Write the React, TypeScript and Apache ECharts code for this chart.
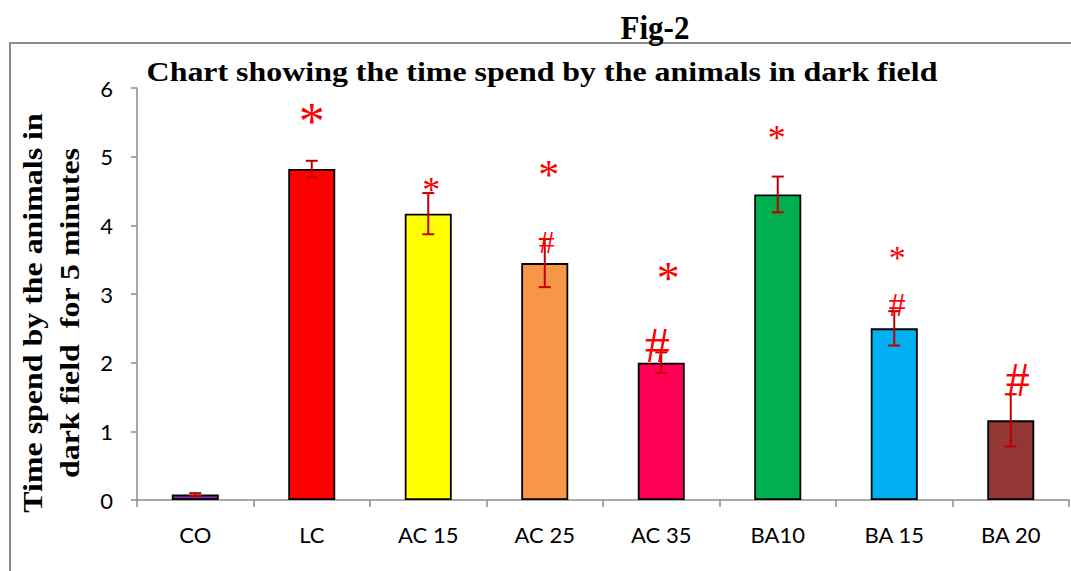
import React, { useEffect, useRef } from "react";
import * as echarts from "echarts";

const categories = ["CO", "LC", "AC 15", "AC 25", "AC 35", "BA10", "BA 15", "BA 20"];
const values = [0.08, 4.82, 4.17, 3.45, 2.0, 4.45, 2.5, 1.16];
const errors = [0.02, 0.12, 0.3, 0.35, 0.15, 0.26, 0.25, 0.38];
const barColors = ["#7030A0", "#FF0000", "#FFFF00", "#F79646", "#FF0055", "#00B050", "#00B0F0", "#943634"];
const yTicks = [0, 1, 2, 3, 4, 5, 6];

// significance marks: category index, y position (data units), symbol, font size
const annoCat = [1, 2, 3, 3, 4, 4, 5, 6, 6, 7];
const annoY = [5.61, 4.59, 4.81, 3.76, 3.32, 2.26, 5.34, 3.6, 2.84, 1.75];
const annoText = ["*", "*", "*", "#", "*", "#", "*", "*", "#", "#"];
const annoSize = [52, 36, 42, 32, 46, 50, 36, 34, 34, 48];
const annoDx = [0, 3, 4, 2, 7, -4, -1, 3, 3, 7];

export default function App() {
  const ref = useRef<HTMLDivElement>(null);
  useEffect(() => {
    if (!ref.current) return;
    const chart = echarts.init(ref.current, null, { renderer: "svg" });
    const serif = "'Liberation Serif', 'Times New Roman', serif";
    const sans = "Lato, 'Open Sans', sans-serif";
    chart.setOption({
      animation: false,
      backgroundColor: "#fff",
      grid: { left: 137, right: 2, top: 88, bottom: 71, containLabel: false },
      graphic: [
        {
          type: "rect",
          shape: { x: 10, y: 43, width: 1200, height: 700 },
          style: { fill: "none", stroke: "#8c8c8c", lineWidth: 2 },
          silent: true,
          z: -10,
        },
        {
          type: "text",
          x: 655,
          y: 28,
          scaleY: 1.08,
          style: { text: "Fig-2", font: `bold 31px ${serif}`, fill: "#000", textAlign: "center", textVerticalAlign: "middle" },
        },
        {
          type: "text",
          x: 542,
          y: 71,
          scaleX: 1.14,
          style: {
            text: "Chart showing the time spend by the animals in dark field",
            font: `bold 28px ${serif}`,
            fill: "#000",
            textAlign: "center",
            textVerticalAlign: "middle",
          },
        },
        {
          type: "text",
          x: 51,
          y: 313,
          rotation: Math.PI / 2,
          scaleX: 1.14,
          style: {
            text: "Time spend by the animals in\ndark field  for 5 minutes",
            font: `bold 28px ${serif}`,
            lineHeight: 37,
            fill: "#000",
            textAlign: "center",
            textVerticalAlign: "middle",
          },
        },
      ],
      xAxis: {
        type: "category",
        data: categories,
        axisLine: { lineStyle: { color: "#8c8c8c", width: 1.5 } },
        axisTick: { show: true, length: 7, lineStyle: { color: "#8c8c8c", width: 1.5 } },
        axisLabel: { color: "#000", fontSize: 22, fontFamily: sans, margin: 23 },
      },
      yAxis: {
        type: "value",
        min: 0,
        max: 6,
        interval: 1,
        splitLine: { show: false },
        axisLine: { show: true, lineStyle: { color: "#8c8c8c", width: 1.5 } },
        axisTick: { show: true, length: 6, lineStyle: { color: "#8c8c8c", width: 1.5 } },
        axisLabel: {
          color: "#000",
          fontSize: 22,
          fontFamily: sans,
          margin: 24,
          formatter: (v: number) => (yTicks.includes(v) ? String(v) : ""),
        },
      },
      series: [
        {
          type: "bar",
          barWidth: 47,
          data: values.map((v, i) => ({
            value: v,
            itemStyle: { color: barColors[i], borderColor: "#000", borderWidth: 1.8 },
          })),
          z: 2,
        },
        {
          type: "custom",
          z: 3,
          data: values.map((v, i) => [i, v, errors[i]]),
          renderItem: (params: any, api: any) => {
            const x = api.value(0);
            const v = api.value(1);
            const e = api.value(2);
            const top = api.coord([x, v + e]);
            const bot = api.coord([x, v - e]);
            const hw = 6;
            const style = { stroke: "#C00000", lineWidth: 2 };
            return {
              type: "group",
              children: [
                { type: "line", shape: { x1: top[0], y1: top[1], x2: bot[0], y2: bot[1] }, style },
                { type: "line", shape: { x1: top[0] - hw, y1: top[1], x2: top[0] + hw, y2: top[1] }, style },
                { type: "line", shape: { x1: bot[0] - hw, y1: bot[1], x2: bot[0] + hw, y2: bot[1] }, style },
              ],
            };
          },
        },
        {
          type: "custom",
          z: 4,
          data: annoCat.map((c, i) => [c, annoY[i]]),
          renderItem: (params: any, api: any) => {
            const i = params.dataIndex;
            const p = api.coord([api.value(0), api.value(1)]);
            const s = annoSize[i];
            const isStar = annoText[i] === "*";
            return {
              type: "text",
              x: p[0] + annoDx[i],
              y: p[1] + (isStar ? s * 0.13 : 0),
              style: {
                text: annoText[i],
                font: `${s}px ${serif}`,
                fill: "#FF0000",
                textAlign: "center",
                textVerticalAlign: "middle",
              },
            };
          },
        },
      ],
    });
    return () => chart.dispose();
  }, []);
  return <div ref={ref} style={{ position: "fixed", left: 0, top: 0, width: 1071, height: 571 }} />;
}
